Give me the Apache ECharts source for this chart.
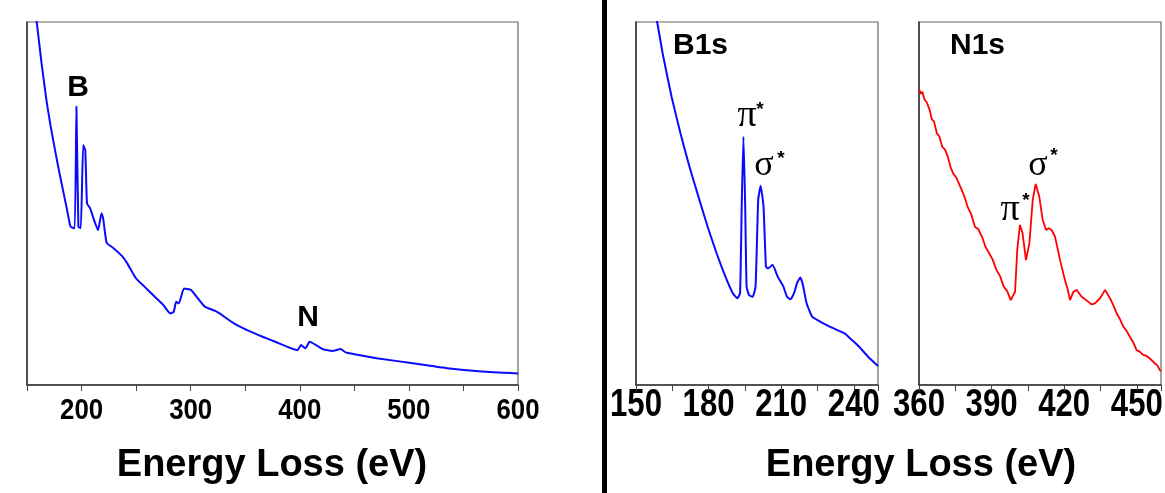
<!DOCTYPE html>
<html><head><meta charset="utf-8">
<script src="https://cdn.jsdelivr.net/npm/echarts@6/dist/echarts.min.js"></script>
<style>html,body{margin:0;padding:0;background:#fff}#c{width:1165px;height:493px}</style>
</head><body><div id="c"></div>
<script>
// ---- Data (intensity in arbitrary units) ----
const wideEnergy = [155,159.0,163,167.8,171.5,175.7,179.6,183.6,186.8,189.9,193.7,195.3,197.1,199.3,201.5,203.4,205.0,207.8,215.1,218.3,219.8,223.0,229.3,237.2,241.9,249.8,257.7,267.1,275.0,281.3,284.5,286.7,289.2,293.9,300.2,306.5,312.9,323.9,339.6,358.6,377.5,398.0,401.1,405.2,409.0,421.6,430,437.4,442,450.0,472.1,503.6,535.1,566.7,600];
const wideIntensity = [110,99.8,89.5,78.5,71.6,64.7,58.6,52.8,48.1,43.6,43.2,76.7,43.6,43.2,66.1,64.7,50.0,48.7,42.7,47.3,45.9,39.2,37.7,35.5,33.5,29.4,27.1,24.3,22.0,19.7,20.2,22.9,22.5,26.6,26.2,23.9,21.6,20.2,17.0,14.2,11.9,9.6,11.0,10.1,11.9,9.8,9.4,9.9,9.0,8.5,7.3,6.0,4.6,3.7,3.2];

const bEnergy = [155,158.8,161.0,164.7,168.4,172.1,175.8,179.6,183.3,187.0,190.0,191.9,193.0,193.7,194.4,195.1,195.7,196.7,198.2,199.4,200.5,201.5,202.7,203.7,204.6,206.4,208.6,210.9,212.4,213.8,215.3,216.5,217.9,219.0,220.5,222.8,225.0,228.0,231.7,236.2,239.2,242.1,245.9,250];
const bIntensity = [112,99.8,91.4,79.4,69.3,60.1,51.9,43.6,36.3,29.8,25.3,23.9,25.3,50,68.4,50,27.1,24.8,24.3,27.1,51.0,54.9,49.1,32.6,32.1,33.1,29.8,27.1,24.3,23.6,25.3,28.0,29.6,27.5,22.5,18.8,17.9,16.8,15.6,14.2,12.4,10.6,7.8,5.2];

const nEnergy = [360,360.8,361.4,362.3,363.2,364.4,365.3,366.2,367.4,368.4,369.6,370.7,371.9,373.0,374.1,375.5,377.1,378.5,380.1,381.6,383.1,384.5,386.0,387.5,389.0,390.4,392.0,393.5,395.0,396.5,397.9,398.3,399.7,400.6,401.7,402.8,404.2,405.6,407.0,408.2,409.7,411.1,412.5,413.6,414.8,416.2,418.3,420.3,421.4,422.4,423.8,425.2,427.2,428.6,430.0,431.4,432.7,434.8,436.9,438.9,440.3,441.7,443.0,444.4,445.8,447.1,448.5,449.9,451.2,452.6,454.0,455.4,457.4,458.5,459.5,460];
const nIntensity = [81.5,80.2,80.8,78.6,77.9,75.8,73.2,72.6,69.3,68.5,65.6,64.9,62.9,60.1,58.3,57.0,54.6,52.4,49.1,47.0,43.6,42.9,40.9,38.0,36.3,34.6,31.7,30.0,27.1,25.8,23.4,23.0,25.7,37.2,44.1,41.8,34.4,39.0,51.0,55.4,51.9,45.5,42.7,43.2,42.7,40.9,34.4,28.9,26.5,23.4,25.7,26.2,24.3,23.6,22.9,22.2,22.5,23.9,26.2,23.9,22.0,19.7,18.2,16.1,14.9,13.3,11.8,9.6,9.2,8.3,8.0,7.3,6.0,5.4,4.1,3.8];

const wideRange = [150, 600], wideStep = 50;
const bRange = [150, 250], nRange = [360, 460], zoomStep = 15;
const wideTickLabels = [200, 300, 400, 500, 600];
const bTickLabels = [150, 180, 210, 240];
const nTickLabels = [360, 390, 420, 450];
const axisTitle = 'Energy Loss (eV)';

// ---- Chart ----
const pair = (xs, ys) => xs.map((x, i) => [x, ys[i]]);
const sans = "'Liberation Sans',Arial,sans-serif";
const serif = "'Liberation Serif','Times New Roman',serif";

function xAx(idx, range, step) {
  return {
    type: 'value', gridIndex: idx, min: range[0], max: range[1], interval: step,
    axisLine: { show: true, lineStyle: { color: '#333', width: 1.5 } },
    axisTick: { show: true, inside: false, length: 6, lineStyle: { color: '#444', width: 1 } },
    splitLine: { show: false },
    axisLabel: { show: false }
  };
}
function yAx(idx) {
  return {
    type: 'value', gridIndex: idx, min: 0, max: 100,
    axisLine: { show: true, lineStyle: { color: '#333', width: 1.5 } },
    axisTick: { show: false }, axisLabel: { show: false }, splitLine: { show: false }
  };
}
const gridBase = { show: true, borderColor: '#666', borderWidth: 1.2, backgroundColor: 'transparent' };

const chart = echarts.init(document.getElementById('c'), null, { renderer: 'canvas' });
chart.setOption({
  backgroundColor: '#fff',
  animation: false,
  grid: [
    Object.assign({ left: 27, top: 22, width: 491, height: 363 }, gridBase),
    Object.assign({ left: 636, top: 22, width: 242, height: 363 }, gridBase),
    Object.assign({ left: 919, top: 22, width: 242, height: 363 }, gridBase)
  ],
  xAxis: [xAx(0, wideRange, wideStep), xAx(1, bRange, zoomStep), xAx(2, nRange, zoomStep)],
  yAxis: [yAx(0), yAx(1), yAx(2)],
  series: [
    { type: 'line', xAxisIndex: 0, yAxisIndex: 0, data: pair(wideEnergy, wideIntensity), showSymbol: false, clip: true, smooth: 0.15, lineStyle: { color: '#0a0aff', width: 2 } },
    { type: 'line', xAxisIndex: 1, yAxisIndex: 1, data: pair(bEnergy, bIntensity), showSymbol: false, clip: true, smooth: 0.15, lineStyle: { color: '#0a0aff', width: 2 } },
    { type: 'line', xAxisIndex: 2, yAxisIndex: 2, data: pair(nEnergy, nIntensity), showSymbol: false, clip: true, lineStyle: { color: '#ff0000', width: 1.8 } }
  ]
});

// tick labels, placed through the axes' own scales, drawn horizontally condensed
function tickLabels(gi, ticks, size, sx, dy) {
  return ticks.map(v => {
    const p = chart.convertToPixel({ gridIndex: gi }, [v, 0]);
    return { type: 'text', x: p[0], y: p[1] + dy, scaleX: sx, silent: true,
      style: { text: String(v), x: 0, y: 0, font: 'bold ' + size + 'px ' + sans, fill: '#000', textAlign: 'center', textVerticalAlign: 'middle' } };
  });
}
function txt(t, x, y, font, align) {
  return { type: 'text', silent: true, style: { text: t, x: x, y: y, font: font, fill: '#000', textAlign: align || 'center', textVerticalAlign: 'middle' } };
}
const gfx = [
  { type: 'rect', silent: true, shape: { x: 602, y: 0, width: 5, height: 493 }, style: { fill: '#000' } },
  txt(axisTitle, 272, 466, 'bold 38px ' + sans),
  txt(axisTitle, 921, 466, 'bold 38px ' + sans),
  txt('B', 78, 88, 'bold 30px ' + sans),
  txt('N', 308, 318, 'bold 30px ' + sans),
  txt('B1s', 673, 46, 'bold 30px ' + sans, 'left'),
  txt('N1s', 950, 46, 'bold 30px ' + sans, 'left'),
  txt('π', 747, 116, '38px ' + serif),
  txt('*', 760, 110, 'bold 19px ' + sans),
  txt('σ', 764, 166, '36px ' + serif),
  txt('*', 781, 159, 'bold 19px ' + sans),
  txt('π', 1010, 210, '38px ' + serif),
  txt('*', 1026, 201, 'bold 19px ' + sans),
  txt('σ', 1038, 166, '36px ' + serif),
  txt('*', 1054, 156, 'bold 19px ' + sans)
].concat(
  tickLabels(0, wideTickLabels, 30, 0.86, 26),
  tickLabels(1, bTickLabels, 38, 0.82, 21),
  tickLabels(2, nTickLabels, 38, 0.82, 21)
);
chart.setOption({ graphic: gfx });
</script>
</body></html>
